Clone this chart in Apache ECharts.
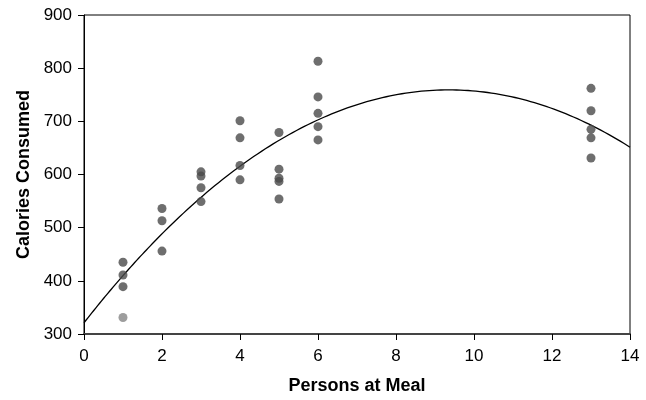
<!DOCTYPE html>
<html>
<head>
<meta charset="utf-8">
<script src="https://cdn.jsdelivr.net/npm/echarts@6/dist/echarts.min.js"></script>
<style>
  html, body { margin: 0; padding: 0; background: #fff; }
  #chart { width: 646px; height: 400px; }
</style>
</head>
<body>
<div id="chart"></div>
<script>
// Party size vs. calories eaten per person
const persons = [1, 1, 1, 1,
                 2, 2, 2,
                 3, 3, 3, 3,
                 4, 4, 4, 4,
                 5, 5, 5, 5, 5,
                 6, 6, 6, 6, 6,
                 13, 13, 13, 13, 13];
const calories = [435, 411, 389, 331,
                  536, 513, 456,
                  605, 597, 575, 549,
                  701, 669, 617, 590,
                  679, 610, 593, 587, 554,
                  813, 746, 715, 690, 665,
                  762, 720, 685, 669, 631];
const xTicks = [0, 2, 4, 6, 8, 10, 12, 14];
const yTicks = [300, 400, 500, 600, 700, 800, 900];
// observation shown in a lighter shade
const mutedIndex = 3;

// least-squares quadratic fit: y = a + b x + c x^2
function quadFit(xs, ys) {
  let n = xs.length, sx = 0, sx2 = 0, sx3 = 0, sx4 = 0, sy = 0, sxy = 0, sx2y = 0;
  for (let i = 0; i < n; i++) {
    const x = xs[i], y = ys[i], x2 = x * x;
    sx += x; sx2 += x2; sx3 += x2 * x; sx4 += x2 * x2;
    sy += y; sxy += x * y; sx2y += x2 * y;
  }
  const M = [[n, sx, sx2, sy], [sx, sx2, sx3, sxy], [sx2, sx3, sx4, sx2y]];
  for (let i = 0; i < 3; i++) {
    for (let k = i + 1; k < 3; k++) {
      const f = M[k][i] / M[i][i];
      for (let j = i; j < 4; j++) M[k][j] -= f * M[i][j];
    }
  }
  const r = [0, 0, 0];
  for (let i = 2; i >= 0; i--) {
    let s = M[i][3];
    for (let j = i + 1; j < 3; j++) s -= M[i][j] * r[j];
    r[i] = s / M[i][i];
  }
  return r;
}

const [a, b, c] = quadFit(persons, calories);
const xMin = xTicks[0], xMax = xTicks[xTicks.length - 1];
const curve = [];
for (let i = 0; i <= 280; i++) {
  const x = xMin + (xMax - xMin) * i / 280;
  curve.push([x, a + b * x + c * x * x]);
}

const points = persons.map((p, i) => [p, calories[i]]);

const chart = echarts.init(document.getElementById('chart'), null, { renderer: 'canvas' });
const tickFont = { fontFamily: 'Liberation Sans, Arial, sans-serif', fontSize: 17, color: '#000' };
const nameFont = { fontFamily: 'Liberation Sans, Arial, sans-serif', fontSize: 18, fontWeight: 'bold', color: '#000' };

chart.setOption({
  animation: false,
  backgroundColor: '#fff',
  grid: {
    left: 84, right: 16, top: 15, bottom: 65,
    show: true, borderColor: '#000', borderWidth: 1, backgroundColor: 'transparent'
  },
  xAxis: {
    type: 'value',
    min: xMin, max: xMax, interval: xTicks[1] - xTicks[0],
    name: 'Persons at Meal',
    nameLocation: 'middle',
    nameGap: 43,
    nameTextStyle: nameFont,
    axisLine: { show: true, onZero: false, lineStyle: { color: '#444', width: 2 } },
    axisTick: { show: true, length: 6, lineStyle: { color: '#000', width: 1 } },
    axisLabel: Object.assign({ margin: 14 }, tickFont),
    splitLine: { show: false }
  },
  yAxis: {
    type: 'value',
    min: yTicks[0], max: yTicks[yTicks.length - 1], interval: yTicks[1] - yTicks[0],
    name: 'Calories Consumed',
    nameLocation: 'middle',
    nameGap: 50,
    nameRotate: 90,
    nameTextStyle: nameFont,
    axisLine: { show: true, onZero: false, lineStyle: { color: '#000', width: 1 } },
    axisTick: { show: true, length: 6, lineStyle: { color: '#000', width: 1 } },
    axisLabel: Object.assign({ margin: 12 }, tickFont),
    splitLine: { show: false }
  },
  series: [
    {
      type: 'line',
      data: curve,
      showSymbol: false,
      smooth: false,
      lineStyle: { color: '#000', width: 1.3 },
      silent: true,
      z: 2
    },
    {
      type: 'scatter',
      data: points,
      symbol: 'circle',
      symbolSize: 9,
      itemStyle: {
        color: (p) => p.dataIndex === mutedIndex ? '#858585' : '#4a4a4a'
      },
      z: 3
    }
  ]
});
</script>
</body>
</html>
